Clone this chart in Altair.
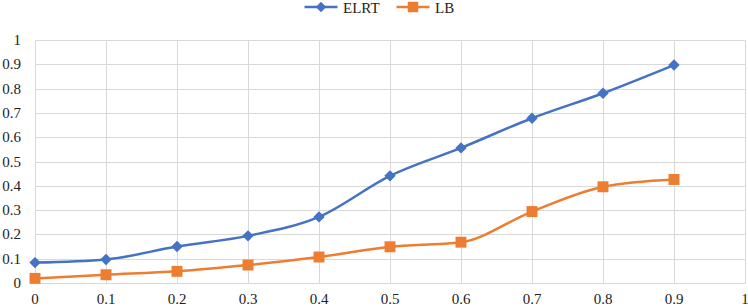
import altair as alt
import pandas as pd

# Series values
x_vals = [0, 0.1, 0.2, 0.3, 0.4, 0.5, 0.6, 0.7, 0.8, 0.9]
elrt = [0.084, 0.097, 0.150, 0.194, 0.272, 0.441, 0.556, 0.678, 0.781, 0.897]
lb = [0.019, 0.034, 0.048, 0.074, 0.107, 0.149, 0.168, 0.294, 0.396, 0.426]

series_names = ["ELRT", "LB"]
series_colors = ["#4472C4", "#ED7D31"]
series_shapes = ["diamond", "square"]
axis_ticks = [0, 0.1, 0.2, 0.3, 0.4, 0.5, 0.6, 0.7, 0.8, 0.9, 1]

df = pd.concat([
    pd.DataFrame({"x": x_vals, "y": elrt, "series": "ELRT"}),
    pd.DataFrame({"x": x_vals, "y": lb, "series": "LB"}),
])
legend_df = pd.DataFrame({"series": series_names})
ticks_df = pd.DataFrame({"v": axis_ticks})

FONT = "Liberation Serif"
TEXT_COLOR = "#222222"
GRID = "#D9D9D9"

color_scale = alt.Scale(domain=series_names, range=series_colors)
color_enc = alt.Color("series:N", scale=color_scale, legend=None)


def grid_axis():
    # gridlines only; tick labels are drawn as text marks below
    return alt.Axis(values=axis_ticks, title=None, labels=False,
                    grid=True, gridColor=GRID, gridWidth=1,
                    domain=False, ticks=False)


def x_enc(field="x"):
    return alt.X(f"{field}:Q", scale=alt.Scale(domain=[0, 1], nice=False),
                 axis=grid_axis())


def y_enc(field="y"):
    return alt.Y(f"{field}:Q", scale=alt.Scale(domain=[0, 1], nice=False),
                 axis=grid_axis())


base = alt.Chart(df)

lines = base.mark_line(interpolate="monotone", strokeWidth=2.5).encode(
    x=x_enc(), y=y_enc(), color=color_enc,
)

diamonds = base.transform_filter(alt.datum.series == "ELRT").mark_point(
    shape="diamond", filled=True, size=130, opacity=1
).encode(x=x_enc(), y=y_enc(), color=color_enc)

squares = base.transform_filter(alt.datum.series == "LB").mark_point(
    shape="square", filled=True, size=120, opacity=1
).encode(x=x_enc(), y=y_enc(), color=color_enc)

# Tick labels along both axes
x_labels = alt.Chart(ticks_df).mark_text(
    align="center", baseline="alphabetic", font=FONT, fontSize=15,
    color=TEXT_COLOR
).encode(x=x_enc("v"), y=alt.value(264),
         text=alt.Text("v:Q", format="~g"))

y_labels = alt.Chart(ticks_df).mark_text(
    align="right", baseline="alphabetic", dy=5, font=FONT, fontSize=15,
    color=TEXT_COLOR
).encode(y=y_enc("v"), x=alt.value(-14),
         text=alt.Text("v:Q", format="~g"))

plot = alt.layer(lines, diamonds, squares, x_labels, y_labels)

# Legend row above the plot: line swatch, marker and label per series
legend_x = alt.X("series:N", axis=None,
                 scale=alt.Scale(type="point", domain=series_names,
                                 range=[286, 378], padding=0))
legend_base = alt.Chart(legend_df)

legend_lines = legend_base.mark_tick(
    orient="horizontal", size=33, thickness=2.5, opacity=1
).encode(x=legend_x, y=alt.value(-33), color=color_enc)

legend_marks = legend_base.mark_point(filled=True, size=110, opacity=1).encode(
    x=legend_x, y=alt.value(-33), color=color_enc,
    shape=alt.Shape("series:N",
                    scale=alt.Scale(domain=series_names, range=series_shapes),
                    legend=None),
)

legend_text = legend_base.mark_text(
    align="left", baseline="middle", dx=22, font=FONT, fontSize=15,
    color=TEXT_COLOR
).encode(x=legend_x, y=alt.value(-32), text="series:N")

legend = alt.layer(legend_lines, legend_marks, legend_text)

chart = alt.layer(plot, legend).resolve_scale(x="independent").properties(
    width=710, height=243,
    autosize=alt.AutoSizeParams(type="none"),
    padding={"left": 35, "top": 40, "right": 3, "bottom": 24},
).configure_view(stroke=None)

chart.save("out.html", embed_options={"renderer": "svg", "actions": False})
